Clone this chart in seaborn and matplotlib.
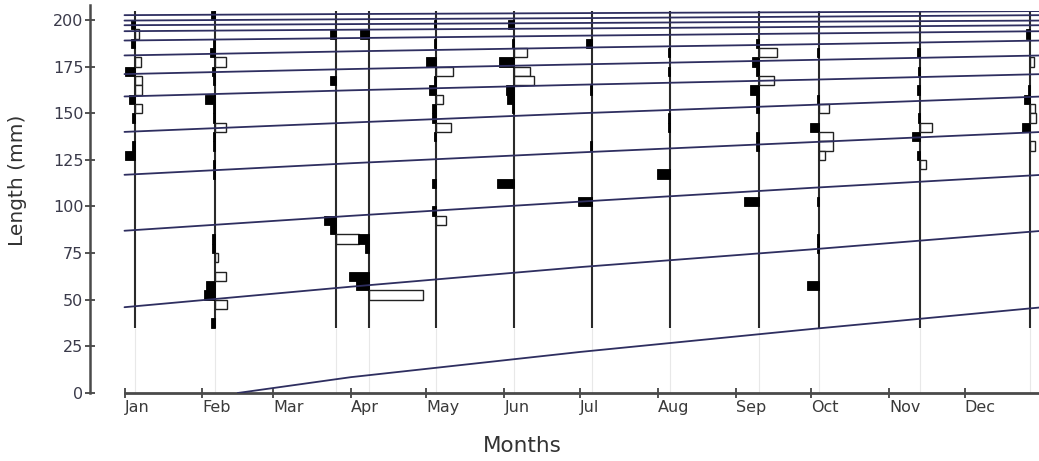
import numpy as np
import pandas as pd
import matplotlib
matplotlib.use("Agg")
import matplotlib.pyplot as plt
import seaborn as sns

# ---------------- data ----------------
month_labels = ["Jan", "Feb", "Mar", "Apr", "May", "Jun",
                "Jul", "Aug", "Sep", "Oct", "Nov", "Dec"]
month_days = [0, 31, 59, 90, 120, 151, 181, 212, 243, 273, 304, 334]

# sampling dates (day of year)
sample_days = [4, 36, 84, 97, 124, 155, 186, 217, 252, 276, 316, 360]

# restructured length-frequency scores per sample: (bin lower edge in mm, score)
# score > 0 : peak (black bar),  score < 0 : trough (white bar)
s_jan = [(195, 0.06), (190, -0.08), (185, 0.06), (175, -0.12), (170, 0.17),
         (165, -0.13), (160, -0.13), (155, 0.10), (150, -0.14), (145, 0.05),
         (130, 0.05), (125, 0.17)]
s_feb = [(200, 0.07), (185, 0.04), (180, 0.09), (175, -0.20), (170, 0.05),
         (165, 0.03), (155, 0.18), (150, 0.04), (145, 0.04), (140, -0.20),
         (135, 0.03), (130, 0.03), (120, 0.04), (115, 0.04), (80, 0.05),
         (75, 0.05), (70, -0.05), (60, -0.20), (55, 0.16), (50, 0.20),
         (45, -0.22), (35, 0.07)]
s_mar = [(190, 0.11), (165, 0.11), (90, 0.22), (85, 0.10), (80, -0.42)]
s_apr = [(190, 0.16), (80, 0.20), (75, 0.06), (60, 0.35), (55, 0.22), (50, -1.00)]
s_may = [(195, 0.05), (185, 0.04), (175, 0.20), (170, -0.30), (165, 0.05),
         (160, 0.13), (155, -0.11), (150, 0.09), (145, 0.09), (140, -0.27),
         (135, 0.04), (110, 0.09), (95, 0.08), (90, -0.18)]
s_jun = [(195, 0.11), (185, 0.04), (180, -0.22), (175, 0.29), (170, -0.29),
         (165, -0.36), (160, 0.15), (155, 0.13), (150, 0.05), (110, 0.31)]
s_jul = [(185, 0.11), (160, 0.04), (130, 0.05), (100, 0.27)]
s_aug = [(180, 0.04), (170, 0.04), (145, 0.05), (140, 0.04), (115, 0.25)]
s_sep = [(185, 0.04), (180, -0.33), (175, 0.11), (170, 0.05), (165, -0.29),
         (160, 0.15), (155, 0.04), (150, 0.04), (135, 0.04), (130, 0.04),
         (100, 0.27)]
s_oct = [(180, 0.04), (155, 0.04), (150, -0.18), (140, 0.16), (135, -0.25),
         (130, -0.25), (125, -0.11), (100, 0.03), (80, 0.03), (75, 0.03),
         (55, 0.22)]
s_nov = [(180, 0.05), (170, 0.03), (160, 0.05), (145, 0.02), (140, -0.22),
         (135, 0.13), (125, 0.05), (120, -0.11)]
s_dec = [(190, 0.07), (175, -0.07), (160, 0.04), (155, 0.11), (150, -0.09),
         (145, -0.11), (140, 0.15), (130, -0.09)]
sample_scores = [s_jan, s_feb, s_mar, s_apr, s_may, s_jun,
                 s_jul, s_aug, s_sep, s_oct, s_nov, s_dec]

bin_width = 5          # mm
sample_min_len = 35    # mm, lower end of sampled range
sample_max_len = 205   # mm, upper end of sampled range

# growth curves (one per cohort), lengths read at quarter-year days
curve_days = [0, 90, 181, 273, 365]
hatch_day = 45         # youngest cohort starts at 0 mm on this day
len_d0   = [np.nan, 46, 87, 117, 140, 159, 171, 181, 189, 194, 197.2, 199.7, 202.6]
len_d90  = [8.5, 57, 95, 123.2, 145, 162.3, 173.7, 183.2, 190.3, 194.8, 197.8, 200.4, 203.2]
len_d181 = [22, 67.5, 102.6, 129, 150, 165.3, 176.2, 185.2, 191.6, 195.5, 198.4, 201.0, 203.7]
len_d273 = [34.3, 77, 110, 134.5, 154.5, 168, 178.6, 187, 192.8, 196.3, 199.1, 201.8, 204.2]
len_d365 = [46, 87, 117, 140, 159, 171, 181, 189, 194, 197.2, 199.7, 202.6, 204.8]

# ---------------- build table for the curves ----------------
rows = []
for c in range(len(len_d0)):
    vals = [len_d0[c], len_d90[c], len_d181[c], len_d273[c], len_d365[c]]
    if c == 0:
        rows.append((c, hatch_day, 0.0))
    for d, v in zip(curve_days, vals):
        if not np.isnan(v):
            rows.append((c, d, v))
curves = pd.DataFrame(rows, columns=["cohort", "day", "length"])

# ---------------- figure ----------------
sns.set_theme(style="ticks")
plt.rcParams["font.family"] = ["DejaVu Sans"]

W, H = 1039, 461
px_per_mm = 1.865
y_max = 204.6
ax_left_px, ax_right_px = 90, 1039
ax_bottom_px = 393
ax_top_px = ax_bottom_px - y_max * px_per_mm
fig = plt.figure(figsize=(W / 100, H / 100), dpi=100)
ax = fig.add_axes([ax_left_px / W, 1 - ax_bottom_px / H,
                   (ax_right_px - ax_left_px) / W, (ax_bottom_px - ax_top_px) / H])

px_per_day = 2.516
x_min = -(124.5 - ax_left_px) / px_per_day
x_max = (ax_right_px - 124.5) / px_per_day
ax.set_xlim(x_min, x_max)
ax.set_ylim(0, y_max)

hist_scale = 21.8  # days per unit score

# faint guide lines below sampled range
ax.vlines(sample_days, 0, sample_min_len, color="#e8e8e8", lw=0.8, zorder=1)
# sample axis lines
ax.vlines(sample_days, sample_min_len, sample_max_len, color="#2a2a2a", lw=1.5, zorder=2)

for day, sc in zip(sample_days, sample_scores):
    bins = [b for b, s in sc]
    vals = [s for b, s in sc]
    pos_b = [b for b, s in zip(bins, vals) if s > 0]
    pos_v = [-s * hist_scale for s in vals if s > 0]
    neg_b = [b for b, s in zip(bins, vals) if s < 0]
    neg_v = [-s * hist_scale for s in vals if s < 0]
    ax.barh(pos_b, pos_v, height=bin_width, left=day, align="edge",
            color="black", edgecolor="black", lw=0.6, zorder=3)
    ax.barh(neg_b, neg_v, height=bin_width, left=day, align="edge",
            color="white", edgecolor="#222222", lw=1.0, zorder=3)

sns.lineplot(data=curves, x="day", y="length", units="cohort", estimator=None,
             sort=False, color="#2e2e60", lw=1.3, ax=ax, zorder=4)

# ---------------- axes styling ----------------
for s in ["top", "right"]:
    ax.spines[s].set_visible(False)
ax.spines["left"].set_color("#4a4a4a")
ax.spines["left"].set_linewidth(1.8)
ax.spines["bottom"].set_color("#4a4a4a")
ax.spines["bottom"].set_linewidth(2.0)
ax.spines["bottom"].set_bounds(0, x_max)
ax.spines["left"].set_bounds(0, 208)

ax.set_xticks(month_days)
ax.set_xticklabels(month_labels, ha="left")
ax.set_yticks(np.arange(0, 201, 25))
ax.tick_params(axis="x", direction="inout", length=7, width=1.3, pad=1.5,
               labelsize=11.5, colors="#444444", labelcolor="#3a3a3a")
ax.tick_params(axis="y", direction="inout", length=6.5, width=1.3, pad=1.5,
               labelsize=11.5, colors="#444444", labelcolor="#3a3a4a")

ax.set_xlabel("Months", fontsize=15.5, color="#333333")
ax.set_ylabel("Length (mm)", fontsize=14.5, color="#333333")
ax_w = ax_right_px - ax_left_px
ax_h = ax_bottom_px - ax_top_px
ax.xaxis.set_label_coords((522 - ax_left_px) / ax_w, (ax_bottom_px - 436) / ax_h)
ax.yaxis.set_label_coords((27 - ax_left_px) / ax_w, (ax_bottom_px - 180) / ax_h)

legend = ax.get_legend()
if legend is not None:
    legend.remove()

fig.savefig("out.png", dpi=100)
